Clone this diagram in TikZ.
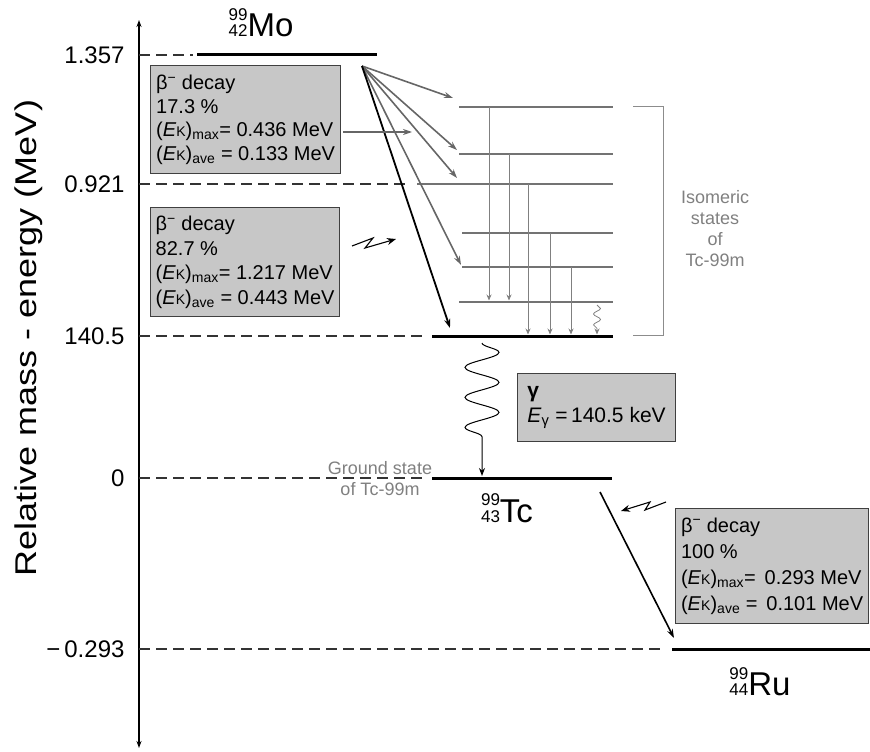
\documentclass[tikz,border=0pt]{standalone}
\usepackage{fontspec}
\setmainfont{Liberation Sans}
\usetikzlibrary{arrows.meta,decorations.pathmorphing,positioning,calc}

\newcommand{\nuclide}[3]{{\fontsize{17}{14}\selectfont\begin{tabular}[b]{@{}r@{}}#1\\#2\end{tabular}}#3}
\newcommand{\Ek}[1]{(\textit{E}{\fontsize{14}{14}\selectfont K})\textsubscript{#1}}

\tikzset{
  lev/.style={line width=3pt},
  isolev/.style={black!55, line width=1.3pt},
  guide/.style={black!80, dash pattern=on 11pt off 6pt, line width=1.3pt},
  infobox/.style={draw=black!75, line width=1.2pt, fill=black!22, anchor=north west, align=left, inner sep=0pt},
  betaarr/.style={black!60, line width=1.6pt, -{Stealth[length=9pt,width=6pt]}},
  gammaarr/.style={black!50, line width=0.8pt, -{Stealth[length=6pt,width=5pt]}},
  ticklab/.style={anchor=east, font={\fontsize{24}{24}\selectfont}},
  greylab/.style={black!50, align=center, font={\fontsize{18}{21}\selectfont}},
  isolab/.style={anchor=base, font={\fontsize{33}{33}\selectfont}}
}

\begin{document}
\begin{tikzpicture}[x=1pt,y=-1pt]
\useasboundingbox (0,0) rectangle (870,752);

% energy axis
\coordinate (axtop) at (139,20);
\coordinate (axbot) at (139,748);
\draw[line width=1.3pt, {Stealth[length=7pt,width=5pt]}-{Stealth[length=7pt,width=5pt]}] (axbot) -- (axtop);
\node[rotate=90, font={\fontsize{30}{30}\selectfont}] (ylab) at (29,338) {\scalebox{1.2}[1]{Relative mass - energy (MeV)}};

\foreach \y/\v/\e in {55/1.357/193, 184/0.921/410, 336/140.5/425, 478/0/425, 649/{−\,0.293}/663} {
  \node[ticklab] (t\y) at (128,\y) {\v};
  \draw[guide] (139,\y) -- (\e,\y);
}

% levels
\draw[lev] (197,55) -- (377,55);
\draw[lev] (432,336) -- (613,336);
\draw[lev] (432,478) -- (612,478);
\draw[lev] (672,649) -- (870,649);
\foreach \y/\s in {107/459, 154/459, 184/417, 233/462, 267/462, 302/459}
  \draw[isolev] (\s,\y) -- (613,\y);

\node[isolab] (mo99) at (261,37) {\nuclide{99}{42}{Mo}};
\node[isolab] (tc99) at (507,522) {\nuclide{99}{43}{Tc}};
\node[isolab] (ru99) at (760,695) {\nuclide{99}{44}{Ru}};

% beta decays of Mo-99
\coordinate (mo) at (362,66);
\foreach \x/\y in {453/98, 457/150, 457/178, 461/265} {
  \coordinate (b\y) at (\x,\y);
  \draw[betaarr] (mo) -- (b\y);
}
\coordinate (bmeta) at (450,328);
\draw[betaarr, black, line width=1.8pt] (mo) -- (bmeta);

% transitions between isomeric states
\foreach \x/\a/\b in {489/107/302, 509/154/302, 528/184/336, 550/233/336, 571/267/336}
  \draw[gammaarr] (\x,\a) -- (\x,\b-1.5);
\draw[gammaarr, decorate, decoration={snake, amplitude=3.5pt, segment length=11pt, post length=5pt}] (597,305) -- (597,334.5);

\draw[black!45, line width=0.8pt] (633,106) -| (663,335) -- (633,335);
\node[greylab] (isom) at (715,229) {Isomeric\\states\\of\\Tc-99m};

% boxes
\node[infobox, minimum width=190pt, minimum height=108pt, font={\fontsize{20}{23.5}\selectfont}] (box1) at (150,65)
  {β\textsuperscript{−} decay\\17.3 \%\\\Ek{max}= 0.436 MeV\\\Ek{ave} = 0.133 MeV};
\node[infobox, minimum width=189pt, minimum height=109pt, font={\fontsize{20}{24.5}\selectfont}] (box2) at (150,207)
  {β\textsuperscript{−} decay\\82.7 \%\\\Ek{max}= 1.217 MeV\\\Ek{ave} = 0.443 MeV};
\node[infobox, minimum width=158pt, minimum height=68pt, font={\fontsize{21}{25}\selectfont}] (gbox) at (517,373)
  {\textbf{γ}\\\textit{E}\textsubscript{γ} =\,140.5 keV};
\node[infobox, minimum width=193pt, minimum height=115pt, font={\fontsize{20}{26}\selectfont}] (rbox) at (675,508)
  {β\textsuperscript{−} decay\\100 \%\\\Ek{max}=\, 0.293 MeV\\\Ek{ave} = \,0.101 MeV};

\coordinate (h1) at (343,132);
\coordinate (h2) at (412,132);
\draw[betaarr, line width=1.2pt] (h1) -- (h2);
\draw[line width=1.1pt, -{Stealth[length=9pt,width=7pt]}] (352,246) -- (373,238) -- (365,248) -- (396,239);

% gamma to ground state
\coordinate (g1) at (482,343);
\coordinate (g2) at (482,476);
\draw[line width=1pt, -{Stealth[length=8pt,width=6pt]}, decorate, decoration={snake, amplitude=17pt, segment length=30pt, post length=28pt}] (g1) -- (g2);
\node[greylab] (gs) at (380,479) {Ground state\\of Tc-99m};

% beta decay of Tc-99
\coordinate (tcb) at (600,492);
\coordinate (rub) at (674,638);
\draw[betaarr, black, line width=1.6pt] (tcb) -- (rub);
\draw[line width=1.1pt, -{Stealth[length=9pt,width=7pt]}] (666,502) -- (645,510) -- (650,502) -- (621,511);
\end{tikzpicture}
\end{document}
